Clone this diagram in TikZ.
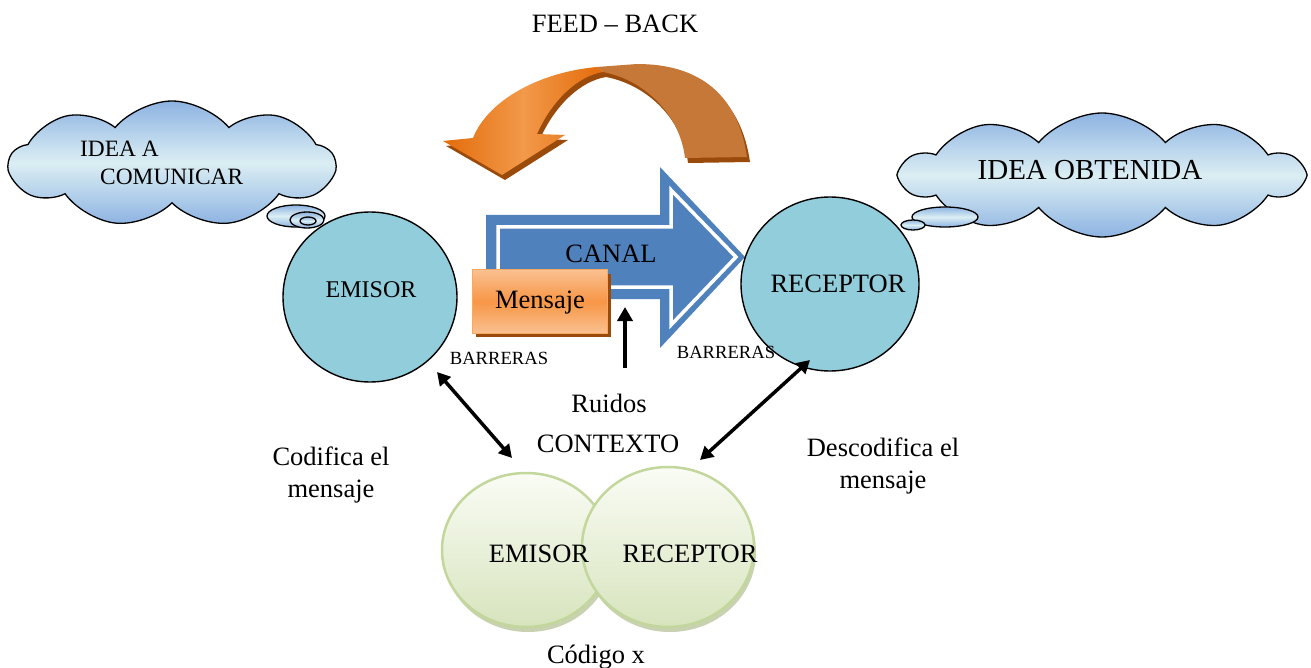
\documentclass[tikz,border=0pt]{standalone}
\usepackage{fontspec}
\setmainfont{Liberation Serif}
\usetikzlibrary{shapes.symbols,shapes.geometric,arrows.meta}
\definecolor{circ}{HTML}{92CDDC}
\definecolor{blu}{HTML}{4F81BD}
\definecolor{cloudtop}{HTML}{8DB3E2}
\definecolor{cloudmid}{HTML}{DBEEF3}
\definecolor{orA}{HTML}{E36C0A}
\definecolor{orB}{HTML}{F2994A}
\definecolor{orC}{HTML}{C67838}
\definecolor{orSh}{HTML}{9A4A0A}
\definecolor{msgTop}{HTML}{FAC090}
\definecolor{msgMid}{HTML}{F79646}
\definecolor{msgLine}{HTML}{F9A862}
\definecolor{grTop}{HTML}{FAFCF5}
\definecolor{grBot}{HTML}{D7E4BD}
\definecolor{grLine}{HTML}{C3D69B}
\definecolor{grSh}{HTML}{B0BF90}
\begin{document}
\begin{tikzpicture}[x=1pt,y=-1pt,
  txt/.style={font=\fontsize{26.5}{31}\selectfont, inner sep=0pt, anchor=base},
  small/.style={font=\fontsize{18.6}{22}\selectfont, inner sep=0pt, anchor=base},
  cloudbox/.style={cloud, draw=black, line width=1.3pt, inner sep=0pt, cloud ignores aspect,
     top color=cloudtop, bottom color=cloudtop, middle color=cloudmid},
  bubble/.style={ellipse, draw=black, line width=1.3pt, inner sep=0pt,
     top color=cloudtop, bottom color=cloudtop, middle color=cloudmid},
  person/.style={ellipse, draw=black, line width=1.4pt, fill=circ, inner sep=0pt},
  code/.style={ellipse, draw=grLine, line width=2.5pt, inner sep=0pt, top color=grTop, bottom color=grBot},
  codesh/.style={ellipse, fill=grSh, inner sep=0pt, opacity=0.7},
  dbl/.style={line width=3.5pt, {Triangle[length=13pt,width=14pt]}-{Triangle[length=13pt,width=14pt]}},
  up/.style={line width=4pt, -{Triangle[length=14pt,width=15pt]}}]
\useasboundingbox (0,0) rectangle (1311,668);

% clouds
\node[cloudbox, cloud puffs=9, cloud puff arc=100, minimum width=325pt, minimum height=126pt] (cl1) at (172,164) {};
\node[bubble, minimum width=58pt, minimum height=22pt] (b1) at (296,216) {};
\node[bubble, minimum width=34pt, minimum height=16pt] (b2) at (307,220) {};
\node[bubble, minimum width=16pt, minimum height=8pt] (b3) at (308,221) {};

\node[cloudbox, cloud puffs=10, cloud puff arc=100, minimum width=400pt, minimum height=124pt] (cl2) at (1102,175) {};
\node[bubble, minimum width=66pt, minimum height=20pt] (b4) at (945,217) {};
\node[bubble, minimum width=24pt, minimum height=10pt] (b5) at (913,225) {};

% feedback arrow
\fill[orSh, shift={(3,5)}] (747,157) .. controls (738,95) and (700,64) .. (637,64) -- (597,67) .. controls (540,72) and (488,100) .. (473,138) -- (443,141) -- (502,175) -- (565,135) -- (537,134) .. controls (552,100) and (578,76) .. (603,72) .. controls (645,80) and (680,115) .. (685,158) -- cycle;
\fill[orC] (747,157) .. controls (738,95) and (700,64) .. (637,64) -- (597,67) -- (603,72) .. controls (645,80) and (680,115) .. (685,158) -- cycle;
\shade[left color=orA, right color=orA, middle color=orB] (597,67) .. controls (540,72) and (488,100) .. (473,138) -- (443,141) -- (502,175) -- (565,135) -- (537,134) .. controls (552,100) and (578,76) .. (603,72) -- cycle;

% canal arrow
\fill[blu] (486,215) -- (660,215) -- (660,167) -- (745,257) -- (660,348) -- (660,299) -- (486,299) -- cycle;
\draw[white, line width=3.5pt, line join=miter] (498,227) -- (671,227) -- (671,190) -- (736,257) -- (671,325) -- (671,287) -- (498,287) -- cycle;

% persons
\node[person, minimum width=174pt, minimum height=170pt] (emisor) at (370,297) {};
\node[person, minimum width=178pt, minimum height=174pt] (receptor) at (830,284) {};

% mensaje
\fill[orSh] (476,274) rectangle (611,337);
\draw[msgLine, line width=1pt, top color=msgTop, bottom color=msgTop, middle color=msgMid] (472,270) rectangle (607,333);
\coordinate (msg) at (540,308);

% code circles
\node[codesh, minimum width=168pt, minimum height=154pt] at (528,555) {};
\node[code, minimum width=168pt, minimum height=154pt] (cE) at (526,550) {};
\node[codesh, minimum width=172pt, minimum height=160pt] at (670,552) {};
\node[code, minimum width=172pt, minimum height=160pt] (cR) at (668,547) {};

% arrows
\coordinate (l1) at (437,372); \coordinate (l2) at (512,458);
\coordinate (r1) at (810,360); \coordinate (r2) at (700,460);
\coordinate (u1) at (625,368); \coordinate (u2) at (625,307);
\draw[dbl] (l1) -- (l2);
\draw[dbl] (r1) -- (r2);
\draw[up] (u1) -- (u2);

% texts
\node[txt] (tfb) at (615,33) {FEED – BACK};
\node[font=\fontsize{23.4}{27}\selectfont, inner sep=0pt, anchor=base west] (tia1) at (80,157) {IDEA A};
\node[font=\fontsize{23.4}{27}\selectfont, inner sep=0pt, anchor=base west] (tia2) at (100,185) {COMUNICAR};
\node[font=\fontsize{29}{33}\selectfont, inner sep=0pt, anchor=base] (tio) at (1090,180) {IDEA OBTENIDA};
\node[font=\fontsize{24}{28}\selectfont, inner sep=0pt, anchor=base] (tem) at (371,298) {EMISOR};
\node[txt] (tre) at (838,292) {RECEPTOR};
\node[txt] (tca) at (611,262) {CANAL};
\node[txt] (tme) at (msg) {Mensaje};
\node[small] (tb1) at (499,364) {BARRERAS};
\node[small] (tb2) at (726,358) {BARRERAS};
\node[txt] (tru) at (609,412) {Ruidos};
\node[txt] (tco) at (608,452) {CONTEXTO};
\node[txt] (tcod1) at (331,465) {Codifica el};
\node[txt] (tcod2) at (331,497) {mensaje};
\node[txt] (tdes1) at (883,456) {Descodifica el};
\node[txt] (tdes2) at (883,488) {mensaje};
\node[txt] (tce) at (539,562) {EMISOR};
\node[txt] (tcr) at (690,562) {RECEPTOR};
\node[txt] (tcx) at (596,663) {Código x};
\end{tikzpicture}
\end{document}
